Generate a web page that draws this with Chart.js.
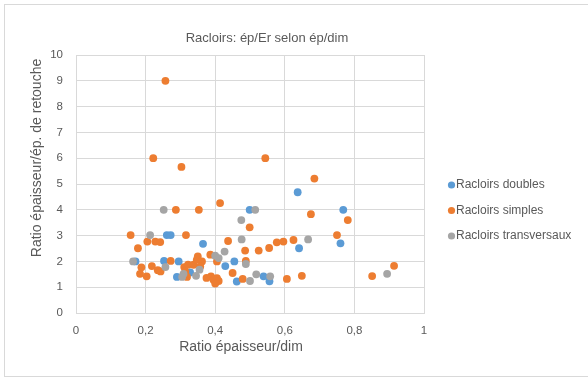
<!DOCTYPE html>
<html>
<head>
<meta charset="utf-8">
<script src="https://cdn.jsdelivr.net/npm/chart.js@4/dist/chart.umd.min.js"></script>
<style>
  html, body { margin: 0; padding: 0; background: #fff; }
  #wrap { width: 588px; height: 381px; position: relative; }
</style>
</head>
<body>
<div id="wrap"><canvas id="chart" width="588" height="381"></canvas></div>
<script>
// valeurs (ép/dim , ép/Er)
const doublesX = [0.171, 0.253, 0.261, 0.272, 0.295, 0.290, 0.328, 0.365, 0.429, 0.455, 0.462, 0.499, 0.539, 0.556, 0.637, 0.641, 0.760, 0.768];
const doublesY = [2.00, 2.02, 3.02, 3.02, 2.00, 1.40, 1.57, 2.68, 1.82, 2.00, 1.22, 4.00, 1.42, 1.23, 4.68, 2.51, 2.70, 4.00];

const simplesX = [0.157, 0.178, 0.188, 0.184, 0.203, 0.205, 0.218, 0.222, 0.228, 0.242, 0.235, 0.243, 0.257, 0.272, 0.287, 0.303,
  0.316, 0.311, 0.322, 0.314, 0.319, 0.338, 0.347, 0.350, 0.362, 0.357, 0.353, 0.375, 0.386, 0.405, 0.388, 0.395, 0.405, 0.410,
  0.400, 0.414, 0.437, 0.450, 0.479, 0.486, 0.488, 0.499, 0.525, 0.544, 0.555, 0.577, 0.596, 0.606, 0.625, 0.649, 0.675, 0.685,
  0.750, 0.781, 0.851, 0.914];
const simplesY = [3.02, 2.51, 1.77, 1.52, 1.42, 2.77, 1.82, 6.00, 2.77, 2.75, 1.66, 1.61, 9.00, 2.02, 4.00, 5.66,
  3.02, 1.78, 1.87, 1.60, 1.40, 1.87, 2.06, 2.19, 2.00, 1.80, 4.00, 1.36, 2.26, 2.00, 1.42, 1.29, 1.35, 1.24,
  1.14, 4.26, 2.79, 1.55, 1.32, 2.42, 2.02, 3.32, 2.42, 6.00, 2.52, 2.74, 2.77, 1.32, 2.83, 1.44, 3.83, 5.21,
  3.02, 3.60, 1.43, 1.83];

const transX = [0.164, 0.213, 0.252, 0.257, 0.309, 0.305, 0.345, 0.355, 0.400, 0.410, 0.427, 0.475, 0.476, 0.488, 0.500, 0.515, 0.518, 0.558, 0.667, 0.894];
const transY = [2.00, 3.02, 4.00, 1.78, 1.52, 1.40, 1.44, 1.68, 2.22, 2.13, 2.38, 3.60, 2.85, 1.90, 1.24, 4.00, 1.50, 1.42, 2.85, 1.52];

const seriesNames = ['Racloirs doubles', 'Racloirs simples', 'Racloirs transversaux'];
const seriesColors = ['#5B9BD5', '#ED7D31', '#A5A5A5'];

const xTickLabels = ['0', '0,2', '0,4', '0,6', '0,8', '1'];
const yTickLabels = ['0', '1', '2', '3', '4', '5', '6', '7', '8', '9', '10'];

const chartTitle = 'Racloirs: ép/Er selon ép/dim';
const xTitle = 'Ratio épaisseur/dim';
const yTitle = 'Ratio épaisseur/ép. de retouche';

const FONT = '"Liberation Sans", Arial, sans-serif';
const TXT = '#595959';

function toPoints(xs, ys) {
  return xs.map((x, i) => ({ x: x, y: ys[i] }));
}

// titres, légende et cadre dessinés à la main pour coller à la mise en page Excel
const decor = {
  id: 'decor',
  beforeDraw(chart) {
    const ctx = chart.ctx;
    ctx.save();
    ctx.strokeStyle = '#d9d9d9';
    ctx.lineWidth = 1;
    ctx.strokeRect(4.5, 4.5, 600, 372);
    ctx.restore();
  },
  afterDraw(chart) {
    const ctx = chart.ctx;
    ctx.save();
    ctx.fillStyle = TXT;
    ctx.textAlign = 'center';
    ctx.textBaseline = 'middle';

    ctx.font = '13px ' + FONT;
    ctx.fillText(chartTitle, 267, 38);

    ctx.font = '14px ' + FONT;
    ctx.fillText(xTitle, 241, 347);

    ctx.save();
    ctx.translate(37, 158);
    ctx.rotate(-Math.PI / 2);
    ctx.fillText(yTitle, 0, 0);
    ctx.restore();

    // légende
    ctx.font = '12px ' + FONT;
    ctx.textAlign = 'left';
    chart.data.datasets.forEach((ds, i) => {
      const y = 185 + i * 25.5;
      ctx.fillStyle = ds.backgroundColor;
      ctx.beginPath();
      ctx.arc(451.5, y, 3.6, 0, Math.PI * 2);
      ctx.fill();
      ctx.fillStyle = TXT;
      ctx.fillText(ds.label, 456, y);
    });
    ctx.restore();
  }
};

new Chart(document.getElementById('chart').getContext('2d'), {
  type: 'scatter',
  data: {
    datasets: [
      { label: seriesNames[0], data: toPoints(doublesX, doublesY), backgroundColor: seriesColors[0], borderColor: seriesColors[0], order: 3 },
      { label: seriesNames[1], data: toPoints(simplesX, simplesY), backgroundColor: seriesColors[1], borderColor: seriesColors[1], order: 2 },
      { label: seriesNames[2], data: toPoints(transX, transY), backgroundColor: seriesColors[2], borderColor: seriesColors[2], order: 1 }
    ]
  },
  options: {
    responsive: false,
    animation: false,
    devicePixelRatio: 1,
    layout: { padding: { top: 55, right: 164, left: 0, bottom: 0 } },
    elements: { point: { radius: 3.9, borderWidth: 0, hoverRadius: 3.9 } },
    plugins: {
      legend: { display: false },
      title: { display: false },
      tooltip: { enabled: false }
    },
    scales: {
      x: {
        type: 'linear',
        min: 0, max: 1,
        afterFit: s => { s.height = 68; },
        grid: { color: '#d9d9d9', drawTicks: false },
        border: { color: '#d9d9d9' },
        ticks: {
          stepSize: 0.2,
          padding: 11,
          color: TXT,
          font: { family: FONT, size: 11.5 },
          callback: (v, i) => xTickLabels[i]
        }
      },
      y: {
        type: 'linear',
        min: 0, max: 10,
        afterFit: s => { s.width = 76; },
        grid: { color: '#d9d9d9', drawTicks: false },
        border: { color: '#d9d9d9' },
        ticks: {
          stepSize: 1,
          padding: 13,
          color: TXT,
          font: { family: FONT, size: 11.5 },
          callback: (v, i) => yTickLabels[i]
        }
      }
    }
  },
  plugins: [decor]
});
</script>
</body>
</html>
